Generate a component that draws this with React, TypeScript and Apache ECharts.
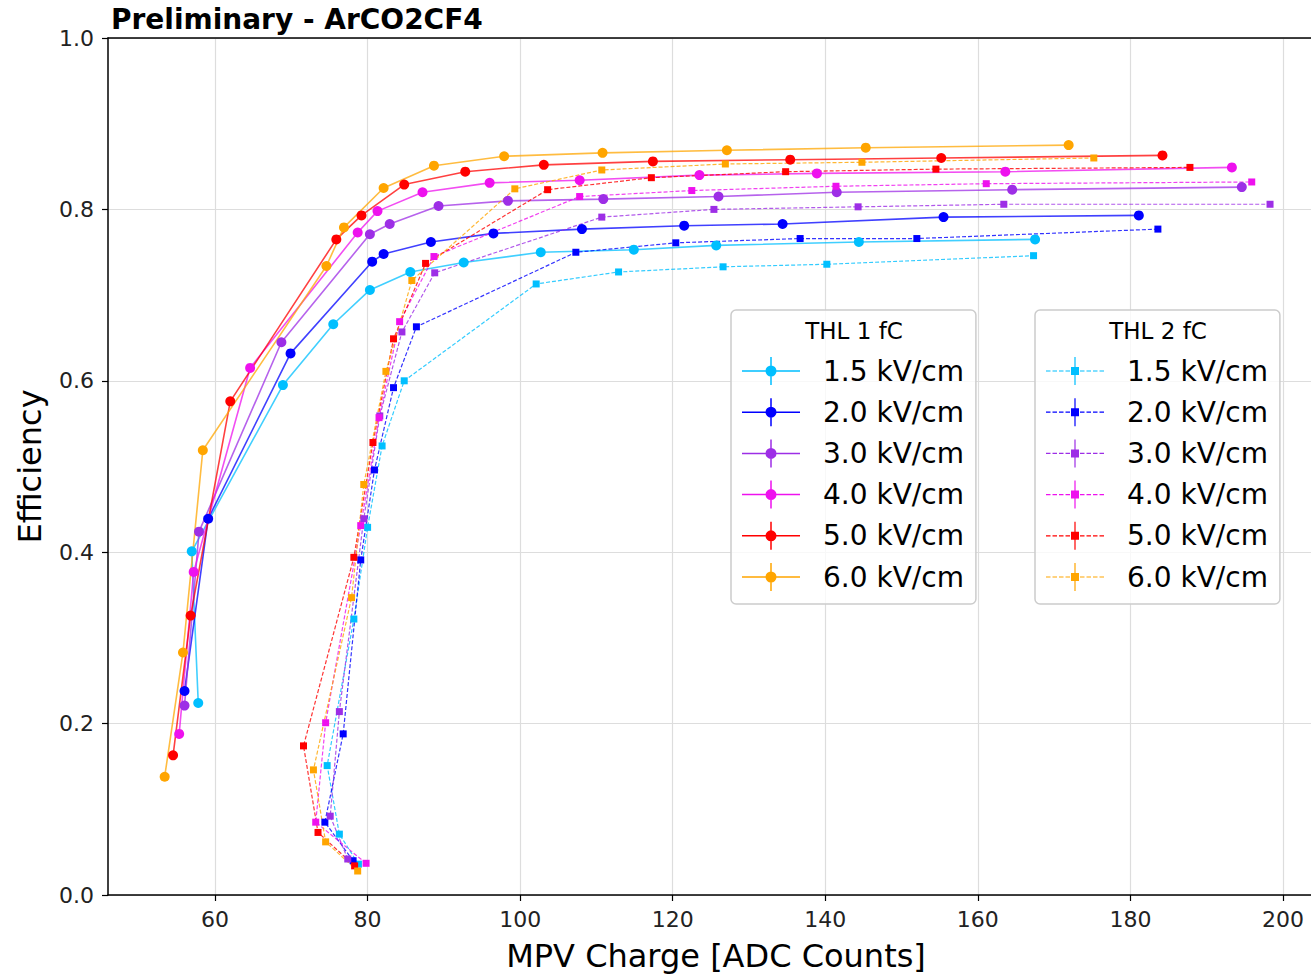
import React, { useEffect, useRef } from "react";
import * as echarts from "echarts";

// ---------- data ----------
const fields = ["1.5 kV/cm", "2.0 kV/cm", "3.0 kV/cm", "4.0 kV/cm", "5.0 kV/cm", "6.0 kV/cm"];
const fieldColors = ["#00bfff", "#0000ff", "#9d2ee6", "#ee11ee", "#ff0000", "#ffa500"];
const xTicks = [60, 80, 100, 120, 140, 160, 180, 200];

// THL 1 fC (solid, circles)
const thl1_15 = [[57.8, 0.224], [56.95, 0.401], [68.9, 0.595], [75.5, 0.666], [80.3, 0.706], [85.6, 0.727], [92.6, 0.738], [102.7, 0.75], [114.9, 0.753], [125.7, 0.758], [144.4, 0.762], [167.5, 0.765]];
const thl1_20 = [[56.0, 0.238], [59.1, 0.439], [69.9, 0.632], [80.6, 0.739], [82.1, 0.748], [88.3, 0.762], [96.5, 0.772], [108.1, 0.777], [121.5, 0.781], [134.4, 0.783], [155.5, 0.791], [181.1, 0.793]];
const thl1_30 = [[56.0, 0.221], [57.9, 0.424], [68.7, 0.645], [80.3, 0.771], [82.9, 0.783], [89.3, 0.804], [98.4, 0.81], [110.9, 0.812], [126.0, 0.815], [141.5, 0.82], [164.5, 0.823], [194.6, 0.826]];
const thl1_40 = [[55.3, 0.188], [57.2, 0.377], [64.6, 0.615], [78.7, 0.773], [81.3, 0.798], [87.2, 0.82], [96.0, 0.831], [107.8, 0.834], [123.5, 0.84], [138.9, 0.842], [163.6, 0.844], [193.3, 0.849]];
const thl1_50 = [[54.5, 0.163], [56.8, 0.326], [62.0, 0.576], [75.9, 0.765], [79.2, 0.793], [84.8, 0.829], [92.8, 0.844], [103.1, 0.852], [117.4, 0.856], [135.4, 0.858], [155.2, 0.86], [184.2, 0.863]];
const thl1_60 = [[53.4, 0.138], [55.8, 0.283], [58.4, 0.519], [74.6, 0.734], [76.9, 0.779], [82.1, 0.825], [88.7, 0.851], [97.9, 0.862], [110.8, 0.866], [127.1, 0.869], [145.3, 0.872], [171.9, 0.875]];

// THL 2 fC (dashed, squares)
const thl2_15 = [[78.8, 0.036], [76.3, 0.071], [74.7, 0.151], [78.2, 0.322], [80.0, 0.429], [81.9, 0.524], [84.8, 0.6], [102.1, 0.713], [112.9, 0.727], [126.6, 0.733], [140.2, 0.736], [167.3, 0.746]];
const thl2_20 = [[78.1, 0.04], [74.4, 0.085], [76.8, 0.188], [79.1, 0.391], [80.9, 0.496], [83.4, 0.592], [86.4, 0.663], [107.3, 0.75], [120.4, 0.761], [136.7, 0.766], [152.0, 0.766], [183.6, 0.777]];
const thl2_30 = [[77.4, 0.042], [75.1, 0.092], [76.3, 0.214], [79.5, 0.439], [81.6, 0.559], [84.5, 0.657], [88.8, 0.726], [110.7, 0.791], [125.4, 0.8], [144.3, 0.803], [163.4, 0.806], [198.3, 0.806]];
const thl2_40 = [[79.8, 0.037], [73.2, 0.085], [74.5, 0.201], [79.1, 0.431], [81.5, 0.557], [84.2, 0.669], [88.7, 0.745], [107.8, 0.815], [122.5, 0.822], [141.4, 0.827], [161.1, 0.83], [195.9, 0.832]];
const thl2_50 = [[78.3, 0.034], [73.5, 0.073], [71.6, 0.174], [78.2, 0.394], [80.7, 0.528], [83.4, 0.649], [87.6, 0.737], [103.6, 0.823], [117.2, 0.837], [134.8, 0.844], [154.5, 0.847], [187.8, 0.849]];
const thl2_60 = [[78.7, 0.028], [74.5, 0.062], [72.9, 0.146], [77.9, 0.347], [79.5, 0.479], [82.4, 0.611], [85.8, 0.717], [99.3, 0.824], [110.7, 0.846], [126.9, 0.853], [144.8, 0.855], [175.2, 0.86]];

const thl1Data = [thl1_15, thl1_20, thl1_30, thl1_40, thl1_50, thl1_60];
const thl2Data = [thl2_15, thl2_20, thl2_30, thl2_40, thl2_50, thl2_60];

const FONT = "DejaVu Sans";

const solidIcon =
  "path://M0 13.25 H58 V14.75 H0 Z M28.25 0 H29.75 V28 H28.25 Z M23.5 14 A5.5 5.5 0 1 1 34.5 14 A5.5 5.5 0 1 1 23.5 14 Z";
const dashedIcon =
  "path://M0 13.4 H4.5 V14.6 H0 Z M6.5 13.4 H11 V14.6 H6.5 Z M13 13.4 H17.5 V14.6 H13 Z M19.5 13.4 H24 V14.6 H19.5 Z M34 13.4 H38.5 V14.6 H34 Z M40.5 13.4 H45 V14.6 H40.5 Z M47 13.4 H51.5 V14.6 H47 Z M53.5 13.4 H58 V14.6 H53.5 Z M28.4 0 H29.6 V28 H28.4 Z M25 10 H33 V18 H25 Z";

export default function App() {
  const ref = useRef<HTMLDivElement>(null);
  useEffect(() => {
    if (!ref.current) return;
    const chart = echarts.init(ref.current, null, { renderer: "svg" });

    const series: any[] = [];
    fields.forEach((f, i) => {
      series.push({
        name: "THL1|" + f,
        type: "line",
        data: thl1Data[i],
        symbol: "circle",
        symbolSize: 10,
        itemStyle: { color: fieldColors[i], borderWidth: 0 },
        lineStyle: { color: fieldColors[i], width: 1.6, opacity: 0.75 },
        z: 3,
      });
    });
    fields.forEach((f, i) => {
      series.push({
        name: "THL2|" + f,
        type: "line",
        data: thl2Data[i],
        symbol: "rect",
        symbolSize: 7,
        itemStyle: { color: fieldColors[i], borderWidth: 0 },
        lineStyle: { color: fieldColors[i], width: 1.2, type: [4, 2], opacity: 0.8 },
        z: 3,
      });
    });

    const legendBase = {
      orient: "vertical",
      top: 310,
      itemWidth: 58,
      itemHeight: 28,
      itemGap: 13.2,
      padding: [47, 12, 13, 11],
      backgroundColor: "rgba(255,255,255,0.8)",
      borderColor: "#cccccc",
      borderWidth: 1.5,
      borderRadius: 5,
      selectedMode: false,
      itemStyle: { borderWidth: 0 },
      formatter: (n: string) => n.split("|")[1],
      textStyle: { fontSize: 28, fontFamily: FONT, color: "#000", padding: [0, 0, 0, 18], lineHeight: 28 },
      z: 10,
    };

    const xAxisCommon = {
      type: "value",
      min: 45.97,
      max: 203.67,
    };

    chart.setOption({
      animation: false,
      backgroundColor: "#ffffff",
      title: {
        text: "Preliminary - ArCO2CF4",
        left: 106,
        top: 0,
        textStyle: { fontSize: 28, fontWeight: "bold", fontFamily: FONT, color: "#000" },
      },
      grid: { left: 108, top: 38, right: 0, bottom: 76, containLabel: false },
      legend: [
        { ...legendBase, left: 731, data: fields.map((f) => "THL1|" + f), icon: solidIcon },
        { ...legendBase, left: 1035, data: fields.map((f) => "THL2|" + f), icon: dashedIcon },
      ],
      graphic: [
        { type: "text", x: 854, y: 331, z: 100, style: { text: "THL 1 fC", fontSize: 23, fontFamily: FONT, fill: "#000", align: "center", verticalAlign: "middle" } },
        { type: "text", x: 1158, y: 331, z: 100, style: { text: "THL 2 fC", fontSize: 23, fontFamily: FONT, fill: "#000", align: "center", verticalAlign: "middle" } },
      ],
      xAxis: [
        {
          ...xAxisCommon,
          position: "bottom",
          name: "MPV Charge [ADC Counts]",
          nameLocation: "middle",
          nameGap: 45,
          nameTextStyle: { fontSize: 32, fontFamily: FONT, color: "#000", padding: [0, 0, 0, 13] },
          axisLine: { show: true, onZero: false, lineStyle: { color: "#000", width: 1.5 } },
          axisTick: { show: true, length: 6, customValues: xTicks, lineStyle: { color: "#000", width: 1.2 } },
          axisLabel: { show: true, customValues: xTicks, margin: 13, fontSize: 22, fontFamily: FONT, color: "#222" },
          splitLine: { show: true, lineStyle: { color: "#dddddd", width: 1.2 } },
        },
        {
          ...xAxisCommon,
          position: "top",
          axisLine: { show: true, onZero: false, lineStyle: { color: "#000", width: 1.5 } },
          axisTick: { show: false },
          axisLabel: { show: false },
          splitLine: { show: false },
        },
      ],
      yAxis: {
        type: "value",
        min: 0,
        max: 1,
        interval: 0.2,
        name: "Efficiency",
        nameLocation: "middle",
        nameGap: 62,
        nameTextStyle: { fontSize: 32, fontFamily: FONT, color: "#000" },
        axisLine: { show: true, onZero: false, lineStyle: { color: "#000", width: 1.5 } },
        axisTick: { show: true, length: 6, lineStyle: { color: "#000", width: 1.2 } },
        axisLabel: { margin: 14, fontSize: 22, fontFamily: FONT, color: "#222", formatter: (v: number) => v.toFixed(1) },
        splitLine: { show: true, lineStyle: { color: "#dddddd", width: 1.2 } },
      },
      series,
    });
    return () => chart.dispose();
  }, []);

  return <div ref={ref} style={{ position: "fixed", left: 0, top: 0, width: 1311, height: 977 }} />;
}
